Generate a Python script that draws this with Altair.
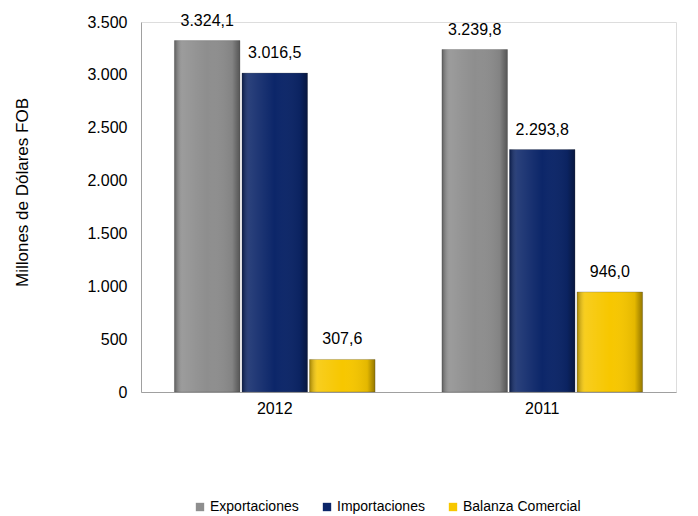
import altair as alt
import pandas as pd

years = ["2012", "2011"]
series = ["Exportaciones", "Importaciones", "Balanza Comercial"]
exportaciones = [3324.1, 3239.8]
importaciones = [3016.5, 2293.8]
balanza = [307.6, 946.0]
colors = ["#8e8e8e", "#0c2669", "#f7c700"]
y_ticks = [0, 500, 1000, 1500, 2000, 2500, 3000, 3500]

rows = []
for i, yr in enumerate(years):
    for s, vals in zip(series, [exportaciones, importaciones, balanza]):
        rows.append({"Año": yr, "Serie": s, "Valor": vals[i]})
df = pd.DataFrame(rows)

FONT = "Liberation Sans"

x_enc = alt.X("Año:N", sort=years, title=None,
              scale=alt.Scale(paddingInner=0.25, paddingOuter=0.125),
              axis=alt.Axis(labelAngle=0, labelFontSize=16, labelColor="#000000",
                            labelFont=FONT, ticks=False, domainColor="#a0a0a0",
                            labelPadding=8))
xoff = alt.XOffset("Serie:N", sort=series, scale=alt.Scale(paddingInner=0.03))
y_enc = alt.Y("Valor:Q", title="Millones de Dólares FOB",
              scale=alt.Scale(domain=[0, 3500], nice=False),
              axis=alt.Axis(values=y_ticks, grid=False, ticks=False,
                            labelExpr="replace(format(datum.value, ',.0f'), ',', '.')",
                            labelFontSize=16, labelColor="#000000", labelFont=FONT,
                            labelPadding=14, domainColor="#a0a0a0",
                            titleFontSize=17, titleFontWeight="normal", titleFont=FONT,
                            titleColor="#000000", titlePadding=55, titleY=170))

base = alt.Chart(df).encode(x=x_enc, xOffset=xoff, y=y_enc)

bars = base.mark_bar(stroke="#555555", strokeWidth=0.5, strokeOpacity=0.6).encode(
    color=alt.Color("Serie:N", sort=series,
                    scale=alt.Scale(domain=series, range=colors),
                    legend=alt.Legend(title=None, orient="none", direction="horizontal",
                                      legendX=52, legendY=478, symbolType="square",
                                      symbolSize=70, symbolStrokeWidth=0,
                                      labelFontSize=14, labelFont=FONT,
                                      labelColor="#000000", columnPadding=21,
                                      symbolOffset=0, labelOffset=3))
)

shade = base.mark_bar(
    fill=alt.Gradient(
        gradient="linear", x1=0, x2=1, y1=0, y2=0,
        stops=[
            alt.GradientStop(offset=0, color="rgba(0,0,0,0.35)"),
            alt.GradientStop(offset=0.12, color="rgba(255,255,255,0.12)"),
            alt.GradientStop(offset=0.5, color="rgba(255,255,255,0.0)"),
            alt.GradientStop(offset=0.88, color="rgba(0,0,0,0.08)"),
            alt.GradientStop(offset=1, color="rgba(0,0,0,0.4)"),
        ],
    )
)

labels = base.mark_text(dy=-12, baseline="bottom", fontSize=16, font=FONT,
                        color="#000000").transform_calculate(
    label="replace(replace(replace(format(datum.Valor, ',.1f'), ',', '_'), '.', ','), '_', '.')"
).encode(text="label:N")

chart = alt.layer(bars, shade, labels).properties(
    width=535, height=370,
    padding={"left": 5, "top": 4, "right": 5, "bottom": 0},
).configure_view(stroke=None).configure(background="#ffffff")

chart.save("out.html", embed_options={"renderer": "svg", "actions": False})
